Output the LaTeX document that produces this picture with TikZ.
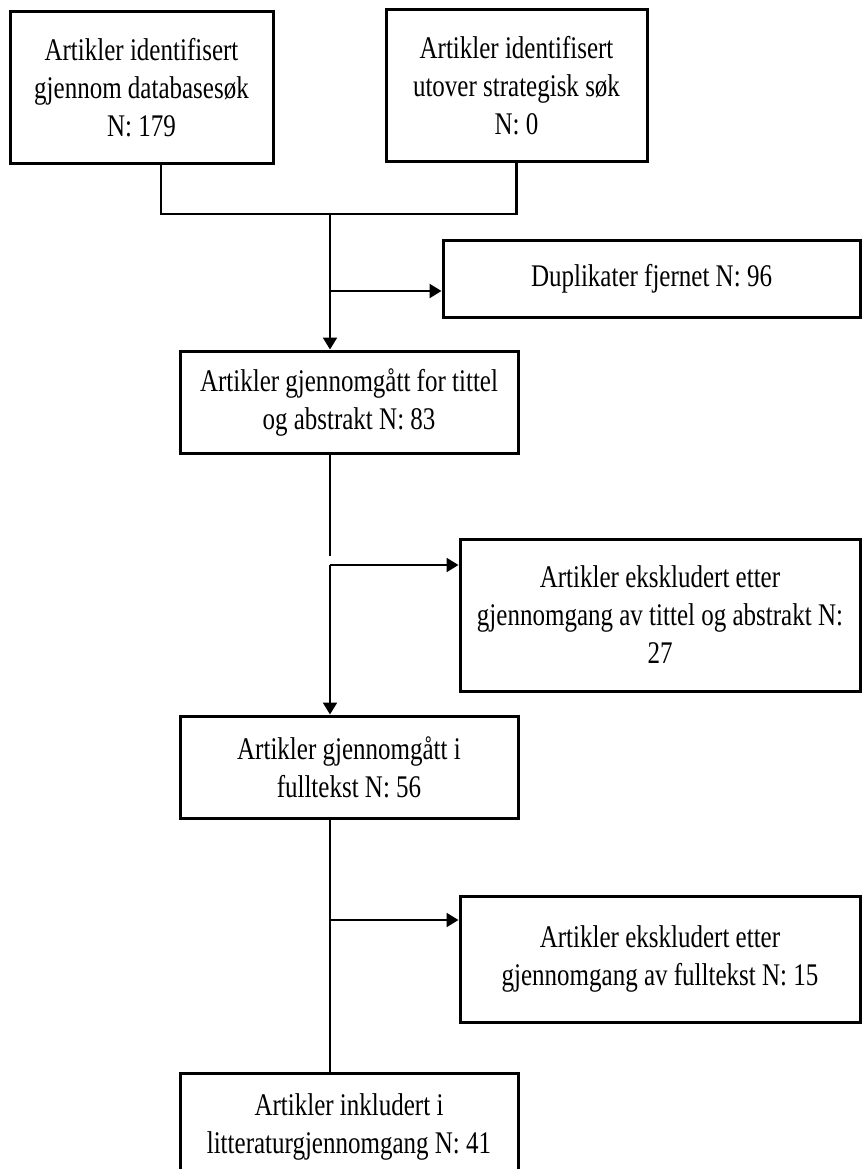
\documentclass[tikz,border=0pt]{standalone}
\usepackage{fontspec}
\setmainfont{Liberation Serif}[FakeStretch=0.794]
\usetikzlibrary{arrows.meta}
\begin{document}
\begin{tikzpicture}[x=1pt,y=-1pt,
		boks/.style={draw, line width=3pt, inner sep=0pt, align=center, font=\fontsize{31.5}{38}\selectfont},
		linje/.style={line width=2.3pt},
		pil/.style={linje, -{Triangle[length=12pt,width=14pt]}}]
	\useasboundingbox (0,0) rectangle (862,1169);
	\node[boks, minimum width=263pt, minimum height=152pt] (b1) at (141.5,88) {Artikler identifisert\\gjennom databasesøk\\N: 179};
	\node[boks, minimum width=261pt, minimum height=152pt] (b2) at (516.5,86) {Artikler identifisert\\utover strategisk søk\\N: 0};
	\node[boks, minimum width=417pt, minimum height=77pt] (dup) at (651.5,278.5) {Duplikater fjernet N: 96};
	\node[boks, minimum width=338pt, minimum height=102pt] (b3) at (349,402) {Artikler gjennomgått for tittel\\og abstrakt N: 83};
	\node[boks, minimum width=400pt, minimum height=152pt] (ex1) at (660,615) {Artikler ekskludert etter\\gjennomgang av tittel og abstrakt N:\\27};
	\node[boks, minimum width=338pt, minimum height=102pt] (b5) at (349,767) {Artikler gjennomgått i\\fulltekst N: 56};
	\node[boks, minimum width=400pt, minimum height=126pt] (ex2) at (660,959) {Artikler ekskludert etter\\gjennomgang av fulltekst N: 15};
	\node[boks, minimum width=338pt, minimum height=107pt] (b7) at (349,1126.5) {Artikler inkludert i\\litteraturgjennomgang N: 41};
	\coordinate (join) at (330,214);
	\coordinate (br1) at (330,291);
	\coordinate (g1) at (330,556);
	\coordinate (br2) at (330,565);
	\coordinate (br3) at (330,920);
	\draw[linje] ([xshift=19.5pt]b1.south) |- (join) -| (b2.south);
	\draw[pil] (join) -- (join |- b3.north);
	\draw[pil] (br1) -- (br1 -| dup.west);
	\draw[linje] (join |- b3.south) -- (g1);
	\draw[pil] (br2) -- (br2 -| ex1.west);
	\draw[pil] (br2) -- (br2 |- b5.north);
	\draw[linje] (join |- b5.south) -- (join |- b7.north);
	\draw[pil] (br3) -- (br3 -| ex2.west);
\end{tikzpicture}
\end{document}
